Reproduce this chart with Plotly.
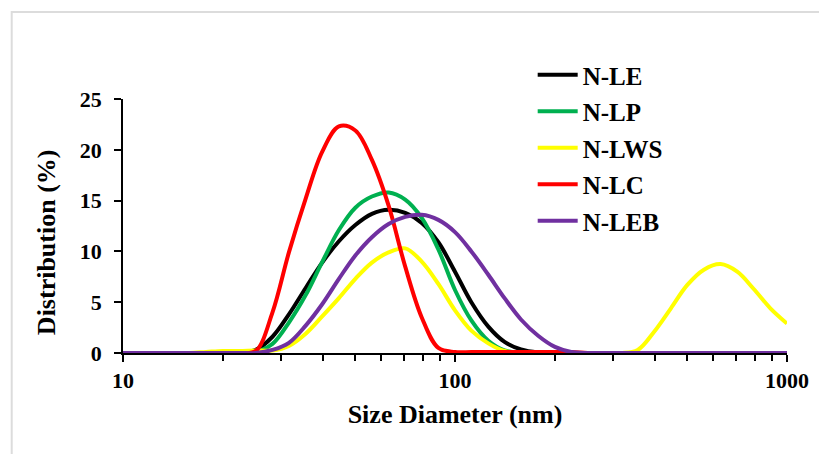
import plotly.graph_objects as go

# Size bins (nm), log-spaced
sizes = [10, 11.2, 12.6, 14.1, 15.8, 17.8, 20.0, 22.4, 25.1, 28.2,
         31.6, 35.5, 39.8, 44.7, 50.1, 56.2, 63.1, 70.8, 79.4, 89.1,
         100, 112, 126, 141, 158, 178, 200, 224, 251, 282,
         316, 355, 398, 447, 501, 562, 631, 708, 794, 891, 1000]

n_le = [0, 0, 0, 0, 0, 0, 0, 0.05, 0.3, 1.6,
        3.8, 6.4, 8.9, 11.0, 12.6, 13.7, 14.1, 13.8, 12.8, 10.9,
        8.0, 5.0, 2.6, 1.1, 0.35, 0.05, 0, 0, 0, 0,
        0, 0, 0, 0, 0, 0, 0, 0, 0, 0, 0]

n_lp = [0, 0, 0, 0, 0, 0, 0, 0, 0.1, 0.9,
        3.0, 5.7, 8.95, 12.1, 14.3, 15.4, 15.8, 15.1, 13.3, 10.2,
        6.2, 3.2, 1.2, 0.25, 0.03, 0, 0, 0, 0, 0,
        0, 0, 0, 0, 0, 0, 0, 0, 0, 0, 0]

n_lws = [0, 0, 0, 0, 0, 0.1, 0.2, 0.2, 0.25, 0.25,
         0.7, 1.9, 3.6, 5.4, 7.3, 8.9, 9.9, 10.3, 9.0, 6.8,
         4.2, 2.2, 0.95, 0.2, 0.02, 0, 0, 0, 0, 0,
         0, 0.3, 2.1, 4.4, 6.7, 8.2, 8.75, 8.0, 6.3, 4.4, 2.9]

n_lc = [0, 0, 0, 0, 0, 0, 0, 0, 0.2, 4.0,
        9.9, 15.2, 19.8, 22.3, 21.9, 19.0, 14.5, 8.5, 3.5, 0.5,
        0.1, 0.1, 0.1, 0.1, 0.1, 0.1, 0.1, 0.1, 0, 0,
        0, 0, 0, 0, 0, 0, 0, 0, 0, 0, 0]

n_leb = [0, 0, 0, 0, 0, 0, 0, 0, 0, 0.3,
         1.0, 2.7, 4.8, 7.3, 9.6, 11.4, 12.7, 13.4, 13.6, 13.1,
         11.9, 10.0, 7.7, 5.4, 3.3, 1.7, 0.6, 0.1, 0, 0,
         0, 0, 0, 0, 0, 0, 0, 0, 0, 0, 0]

series_names = ["N-LE", "N-LP", "N-LWS", "N-LC", "N-LEB"]
series_values = [n_le, n_lp, n_lws, n_lc, n_leb]
series_colors = ["#000000", "#00B050", "#FFFF00", "#FF0000", "#7030A0"]

x_tick_vals = [10, 100, 1000]
x_tick_text = ["10", "100", "1000"]
x_minor_vals = [20, 30, 40, 50, 60, 70, 80, 90, 200, 300, 400, 500, 600, 700, 800, 900]

FONT = "Liberation Serif"

fig = go.Figure()
for name, vals, col in zip(series_names, series_values, series_colors):
    fig.add_trace(go.Scatter(
        x=sizes, y=vals, name=name, mode="lines",
        line=dict(color=col, width=4, shape="spline", smoothing=1.0),
        legendgroup=name,
    ))

fig.update_layout(
    width=819, height=446,
    margin=dict(l=115, r=40, t=91, b=101),
    paper_bgcolor="white", plot_bgcolor="white",
    font=dict(family=FONT, color="black", size=20, weight=700),
    showlegend=True,
    legend=dict(
        x=0.617, y=1.185, xanchor="left", yanchor="top",
        font=dict(family=FONT, size=25, color="black", weight=700),
        bgcolor="rgba(255,255,255,0)",
        tracegroupgap=1,
        itemwidth=40,
    ),
    shapes=[dict(type="rect", xref="paper", yref="paper",
                 x0=-0.1676, x1=1.2, y0=-0.5, y1=1.3425,
                 line=dict(color="#dcdcdc", width=2), fillcolor="rgba(0,0,0,0)",
                 layer="below")],
    annotations=[dict(text="Distribution (%)", xref="paper", yref="paper",
                      x=-0.115, y=0.435, xanchor="center", yanchor="middle",
                      textangle=-90, showarrow=False,
                      font=dict(family=FONT, size=26, color="black", weight=700))],
)

fig.update_xaxes(
    type="log", range=[1, 3],
    tickvals=x_tick_vals, ticktext=x_tick_text,
    ticks="outside", ticklen=7, tickwidth=1.5, tickcolor="black",
    showline=True, linecolor="black", linewidth=1.5,
    showgrid=False, zeroline=False,
    tickfont=dict(family=FONT, size=22, color="black", weight=700),
    minor=dict(tickvals=x_minor_vals, ticks="outside", ticklen=6,
               tickwidth=1.5, tickcolor="black", showgrid=False),
    title=dict(text="Size Diameter (nm)", standoff=13,
               font=dict(family=FONT, size=26, color="black", weight=700)),
)

fig.update_yaxes(
    range=[0, 25], dtick=5,
    ticks="outside", ticklen=7, tickwidth=1.5, tickcolor="black",
    showline=True, linecolor="black", linewidth=1.5,
    showgrid=False, zeroline=False,
    ticklabelstandoff=8,
    tickfont=dict(family=FONT, size=22, color="black", weight=700),
)

fig.write_html("out.html")
